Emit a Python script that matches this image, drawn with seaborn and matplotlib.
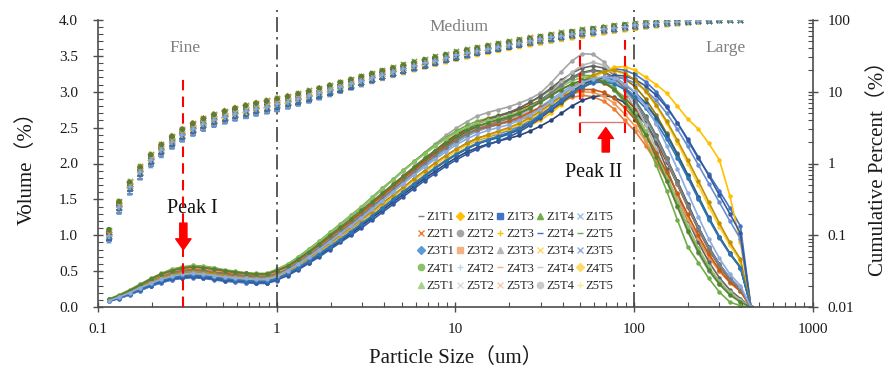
import numpy as np
import pandas as pd
import matplotlib
matplotlib.use('Agg')
import matplotlib.pyplot as plt
import seaborn as sns
from matplotlib.lines import Line2D
from matplotlib.ticker import (FixedLocator, MultipleLocator, LogLocator,
                               NullFormatter, FuncFormatter, FormatStrFormatter)

# ---------------- data ----------------
sizes = [0.115, 0.131, 0.150, 0.172, 0.197, 0.226, 0.259, 0.296, 0.339, 0.389,
         0.445, 0.510, 0.584, 0.669, 0.766, 0.877, 1.005, 1.151, 1.318, 1.510,
         1.729, 1.981, 2.269, 2.599, 2.976, 3.409, 3.905, 4.472, 5.122, 5.867,
         6.720, 7.697, 8.816, 10.097, 11.565, 13.246, 15.172, 17.377, 19.904,
         22.797, 26.111, 29.907, 34.255, 39.234, 44.938, 51.471, 58.953, 67.523,
         77.340, 88.583, 101.460, 116.210, 133.103, 152.453, 174.616, 200.000,
         229.075, 262.376, 300.518, 344.206, 394.244, 451.556]

sample_names = ['Z1T1', 'Z1T2', 'Z1T3', 'Z1T4', 'Z1T5',
                'Z2T1', 'Z2T2', 'Z2T3', 'Z2T4', 'Z2T5',
                'Z3T1', 'Z3T2', 'Z3T3', 'Z3T4', 'Z3T5',
                'Z4T1', 'Z4T2', 'Z4T3', 'Z4T4', 'Z4T5',
                'Z5T1', 'Z5T2', 'Z5T3', 'Z5T4', 'Z5T5']

z1t1 = [.08,.12,.17,.23,.29,.34,.38,.40,.41,.40,.38,.36,.35,.34,.33,.33,.37,
        .49,.58,.67,.78,.88,.99,1.09,1.21,1.32,1.43,1.55,1.66,1.78,1.89,2.00,2.10,2.19,2.28,2.35,2.39,2.43,2.47,2.51,2.57,
        2.65,2.75,2.87,2.99,3.10,3.20,3.28,3.32,3.30,
        3.24,3.14,3.00,2.80,2.57,2.32,2.07,1.85,1.62,1.38,1.13,0]
z1t2 = [.10,.16,.23,.31,.38,.45,.50,.54,.55,.54,.52,.50,.48,.46,.45,.45,.50,
        .55,.63,.73,.83,.93,1.04,1.15,1.26,1.38,1.50,1.62,1.74,1.86,1.98,2.09,2.20,2.30,2.39,2.46,2.51,2.55,2.58,2.61,2.65,
        2.70,2.78,2.86,2.92,2.95,2.93,2.87,2.76,2.60,
        2.45,2.25,2.02,1.76,1.49,1.21,0.94,0.70,0.50,0.34,0.22,0]
z1t3 = [.10,.15,.21,.28,.35,.41,.46,.49,.50,.49,.47,.45,.43,.42,.41,.41,.46,
        .56,.67,.79,.90,1.02,1.14,1.26,1.38,1.51,1.64,1.77,1.90,2.02,2.15,2.27,2.39,2.49,2.58,2.66,2.71,2.75,2.79,2.84,2.90,
        2.98,3.12,3.28,3.43,3.53,3.52,3.42,3.25,3.02,
        2.75,2.45,2.10,1.75,1.40,1.05,0.75,0.50,0.32,0.18,0.09,0]
z1t4 = [.09,.14,.20,.26,.32,.38,.42,.45,.46,.45,.43,.41,.39,.38,.37,.37,.42,
        .48,.56,.65,.75,.85,.95,1.06,1.17,1.28,1.40,1.51,1.62,1.73,1.84,1.95,2.05,2.14,2.22,2.29,2.34,2.38,2.42,2.47,2.53,
        2.60,2.70,2.82,2.95,3.07,3.18,3.28,3.34,3.35,
        3.30,3.20,3.10,2.98,2.80,2.62,2.48,2.28,2.05,1.55,0.90,0]
z1t5 = [.09,.14,.20,.27,.33,.39,.43,.46,.47,.46,.44,.42,.40,.39,.38,.38,.42,
        .50,.59,.69,.80,.91,1.02,1.13,1.25,1.37,1.49,1.61,1.73,1.85,1.97,2.08,2.19,2.29,2.38,2.45,2.50,2.54,2.58,2.62,2.68,
        2.76,2.86,2.96,3.05,3.12,3.16,3.17,3.13,3.05,
        2.95,2.82,2.63,2.40,2.12,1.82,1.52,1.22,0.96,0.74,0.55,0]
z2t1 = [.11,.17,.24,.32,.40,.47,.53,.56,.58,.57,.55,.52,.50,.48,.47,.47,.53,
        .60,.70,.81,.92,1.04,1.16,1.28,1.40,1.53,1.66,1.78,1.91,2.03,2.15,2.26,2.36,2.45,2.53,2.59,2.63,2.67,2.71,2.77,2.85,
        2.93,3.03,3.12,3.19,3.23,3.22,3.15,3.02,2.85,
        2.62,2.32,1.98,1.62,1.22,0.84,0.62,0.40,0.21,0.07,0.02,0]
z2t2 = [.08,.13,.18,.24,.30,.35,.39,.42,.43,.42,.40,.38,.36,.35,.34,.34,.38,
        .45,.53,.62,.72,.82,.92,1.02,1.13,1.24,1.35,1.46,1.57,1.68,1.79,1.89,1.99,2.08,2.16,2.22,2.27,2.31,2.35,2.39,2.45,
        2.52,2.60,2.70,2.80,2.88,2.93,2.95,2.92,2.85,
        2.72,2.55,2.33,2.06,1.76,1.44,1.12,0.84,0.60,0.41,0.26,0]
z2t3 = [.10,.16,.22,.30,.37,.44,.49,.52,.53,.52,.50,.48,.46,.45,.44,.44,.49,
        .55,.64,.75,.86,.97,1.09,1.20,1.32,1.45,1.57,1.70,1.82,1.95,2.07,2.18,2.30,2.40,2.49,2.56,2.62,2.66,2.70,2.75,2.81,
        2.88,2.96,3.04,3.10,3.14,3.15,3.12,3.04,2.92,
        2.76,2.56,2.31,2.02,1.71,1.39,1.08,0.80,0.57,0.38,0.24,0]
z2t4 = [.10,.15,.22,.29,.36,.42,.47,.50,.51,.50,.48,.46,.44,.43,.42,.42,.47,
        .54,.63,.74,.85,.96,1.08,1.19,1.31,1.43,1.56,1.68,1.81,1.93,2.05,2.17,2.28,2.38,2.47,2.55,2.61,2.66,2.71,2.77,2.85,
        2.94,3.05,3.16,3.26,3.33,3.36,3.33,3.24,3.08,
        2.86,2.60,2.28,1.93,1.57,1.22,0.90,0.63,0.41,0.24,0.12,0]
z2t5 = [.10,.15,.21,.28,.34,.40,.45,.48,.49,.48,.46,.44,.42,.41,.40,.40,.44,
        .49,.58,.67,.78,.88,.99,1.09,1.21,1.32,1.43,1.55,1.66,1.78,1.89,2.00,2.10,2.19,2.28,2.35,2.39,2.43,2.47,2.51,2.57,
        2.65,2.74,2.84,2.95,3.05,3.14,3.20,3.22,3.18,
        3.07,2.90,2.68,2.42,2.14,1.84,1.54,1.24,0.98,0.75,0.56,0]
z3t1 = [.09,.14,.19,.26,.32,.37,.42,.44,.45,.44,.42,.40,.38,.37,.36,.36,.40,
        .46,.54,.63,.73,.83,.94,1.04,1.15,1.26,1.38,1.49,1.60,1.71,1.82,1.93,2.03,2.12,2.20,2.27,2.32,2.36,2.41,2.47,2.56,
        2.66,2.78,2.90,3.01,3.10,3.16,3.19,3.17,3.10,
        2.99,2.84,2.64,2.40,2.13,1.84,1.54,1.25,0.98,0.75,0.55,0]
z3t2 = [.10,.16,.23,.31,.38,.45,.51,.54,.55,.54,.52,.49,.47,.46,.45,.45,.50,
        .56,.65,.75,.86,.97,1.08,1.19,1.31,1.43,1.55,1.67,1.79,1.91,2.03,2.14,2.25,2.35,2.44,2.51,2.56,2.60,2.64,2.70,2.78,
        2.88,2.99,3.10,3.20,3.27,3.30,3.28,3.20,3.06,
        2.88,2.66,2.39,2.08,1.75,1.42,1.10,0.82,0.58,0.39,0.25,0]
z3t3 = [.08,.12,.17,.23,.29,.34,.38,.41,.42,.41,.39,.37,.35,.34,.34,.34,.38,
        .47,.56,.66,.76,.87,.98,1.09,1.20,1.32,1.43,1.55,1.66,1.77,1.88,1.99,2.09,2.18,2.26,2.32,2.37,2.41,2.46,2.52,2.60,
        2.68,2.77,2.87,2.97,3.06,3.13,3.18,3.20,3.18,
        3.12,3.02,2.88,2.70,2.48,2.24,1.98,1.72,1.46,1.20,0.95,0]
z3t4 = [.10,.16,.23,.30,.38,.44,.50,.53,.54,.53,.51,.49,.47,.46,.45,.45,.49,
        .54,.63,.73,.84,.95,1.06,1.17,1.29,1.41,1.53,1.65,1.77,1.89,2.01,2.12,2.23,2.33,2.42,2.49,2.55,2.59,2.62,2.66,2.72,
        2.78,2.85,2.92,2.97,3.00,2.99,2.94,2.84,2.69,
        2.52,2.31,2.07,1.80,1.52,1.23,0.96,0.72,0.51,0.35,0.22,0]
z3t5 = [.10,.15,.21,.28,.35,.41,.46,.49,.50,.49,.47,.45,.43,.42,.41,.41,.45,
        .52,.61,.71,.82,.93,1.04,1.15,1.27,1.39,1.51,1.63,1.75,1.87,1.99,2.10,2.21,2.31,2.40,2.47,2.52,2.56,2.60,2.66,2.75,
        2.86,2.99,3.13,3.27,3.37,3.41,3.37,3.25,3.06,
        2.82,2.54,2.20,1.84,1.48,1.13,0.82,0.56,0.36,0.21,0.10,0]
z4t1 = [.09,.14,.20,.26,.33,.38,.43,.45,.46,.45,.43,.41,.40,.39,.38,.38,.42,
        .50,.58,.68,.78,.88,.99,1.10,1.21,1.32,1.43,1.55,1.66,1.77,1.88,1.99,2.09,2.18,2.26,2.33,2.38,2.43,2.48,2.54,2.62,
        2.71,2.81,2.92,3.03,3.13,3.21,3.27,3.29,3.25,
        3.15,3.00,2.80,2.56,2.29,2.00,1.70,1.40,1.12,0.86,0.64,0]
z4t2 = [.09,.14,.20,.27,.33,.39,.44,.47,.48,.47,.45,.43,.41,.40,.39,.39,.43,
        .51,.60,.70,.81,.92,1.03,1.14,1.26,1.38,1.50,1.62,1.74,1.86,1.98,2.09,2.20,2.30,2.39,2.46,2.51,2.55,2.59,2.64,2.71,
        2.79,2.89,2.99,3.08,3.15,3.19,3.19,3.14,3.03,
        2.86,2.63,2.36,2.05,1.73,1.41,1.10,0.82,0.59,0.41,0.27,0]
z4t3 = [.11,.17,.24,.32,.39,.46,.52,.55,.57,.56,.54,.51,.49,.47,.46,.46,.52,
        .59,.69,.80,.91,1.03,1.15,1.27,1.39,1.52,1.65,1.77,1.90,2.02,2.13,2.24,2.34,2.43,2.50,2.56,2.60,2.63,2.67,2.72,2.79,
        2.87,2.97,3.07,3.15,3.20,3.21,3.16,3.06,2.90,
        2.70,2.45,2.15,1.82,1.47,1.12,0.82,0.56,0.35,0.19,0.08,0]
z4t4 = [.08,.13,.18,.24,.30,.35,.39,.41,.42,.41,.39,.37,.36,.35,.34,.34,.38,
        .44,.52,.61,.70,.80,.90,1.00,1.10,1.21,1.32,1.43,1.54,1.65,1.76,1.86,1.96,2.05,2.13,2.20,2.26,2.31,2.37,2.44,2.53,
        2.63,2.74,2.85,2.96,3.06,3.14,3.20,3.23,3.22,
        3.17,3.08,2.95,2.78,2.57,2.34,2.09,1.83,1.56,1.30,1.03,0]
z4t5 = [.10,.16,.23,.31,.39,.46,.51,.55,.56,.55,.53,.50,.48,.47,.46,.46,.51,
        .57,.66,.76,.87,.98,1.09,1.20,1.32,1.44,1.56,1.68,1.80,1.91,2.03,2.14,2.24,2.33,2.41,2.47,2.51,2.55,2.59,2.64,2.71,
        2.78,2.86,2.93,2.99,3.03,3.03,2.99,2.91,2.78,
        2.61,2.40,2.15,1.88,1.59,1.29,1.00,0.74,0.52,0.35,0.22,0]
z5t1 = [.10,.15,.21,.29,.36,.42,.47,.50,.51,.50,.48,.46,.44,.43,.42,.42,.46,
        .53,.62,.72,.83,.94,1.05,1.16,1.28,1.40,1.52,1.64,1.76,1.88,2.00,2.11,2.22,2.32,2.41,2.48,2.53,2.58,2.63,2.69,2.77,
        2.87,2.98,3.09,3.19,3.26,3.29,3.27,3.19,3.05,
        2.87,2.65,2.38,2.07,1.74,1.41,1.09,0.81,0.58,0.39,0.25,0]
z5t2 = [.10,.15,.21,.28,.35,.41,.45,.48,.49,.48,.46,.44,.42,.41,.40,.40,.45,
        .50,.59,.68,.79,.89,1.00,1.11,1.22,1.33,1.45,1.56,1.67,1.79,1.90,2.01,2.11,2.20,2.28,2.35,2.40,2.45,2.50,2.56,2.64,
        2.73,2.83,2.94,3.05,3.15,3.23,3.28,3.30,3.26,
        3.16,3.01,2.82,2.59,2.33,2.05,1.76,1.46,1.17,0.90,0.67,0]
z5t3 = [.09,.13,.19,.25,.31,.37,.41,.44,.45,.44,.42,.40,.38,.37,.36,.36,.40,
        .47,.55,.64,.74,.84,.94,1.05,1.16,1.27,1.38,1.50,1.61,1.72,1.83,1.94,2.04,2.13,2.21,2.28,2.33,2.38,2.43,2.49,2.57,
        2.67,2.78,2.89,2.99,3.07,3.12,3.14,3.11,3.03,
        2.92,2.77,2.57,2.34,2.08,1.80,1.51,1.23,0.97,0.74,0.55,0]
z5t4 = [.11,.16,.23,.31,.39,.46,.51,.54,.56,.55,.53,.51,.49,.47,.46,.46,.51,
        .57,.67,.77,.88,1.00,1.11,1.23,1.35,1.47,1.59,1.71,1.83,1.95,2.07,2.18,2.28,2.38,2.46,2.52,2.57,2.61,2.65,2.70,2.77,
        2.85,2.94,3.03,3.11,3.16,3.18,3.14,3.04,2.88,
        2.66,2.40,2.09,1.76,1.41,1.06,0.77,0.52,0.32,0.17,0.07,0]
z5t5 = [.09,.14,.20,.27,.33,.39,.43,.46,.47,.46,.44,.42,.41,.40,.39,.39,.43,
        .51,.60,.70,.80,.91,1.02,1.13,1.24,1.36,1.48,1.60,1.72,1.84,1.95,2.06,2.16,2.26,2.34,2.41,2.46,2.50,2.54,2.60,2.68,
        2.76,2.86,2.96,3.05,3.13,3.18,3.21,3.19,3.12,
        2.99,2.80,2.55,2.25,1.93,1.59,1.26,0.95,0.68,0.46,0.30,0]

volumes = [z1t1, z1t2, z1t3, z1t4, z1t5, z2t1, z2t2, z2t3, z2t4, z2t5,
           z3t1, z3t2, z3t3, z3t4, z3t5, z4t1, z4t2, z4t3, z4t4, z4t5,
           z5t1, z5t2, z5t3, z5t4, z5t5]

# Size class boundaries and peak annotations
class_bounds = [1, 100]
peak1_size = 0.3
peak2_range = [49.7, 88.7]

# ---------------- styles ----------------
line_colors = ['#4472C4', '#ED7D31', '#A5A5A5', '#FFC000', '#5B9BD5',
               '#70AD47', '#264478', '#9E480E', '#636363', '#997300',
               '#255E91', '#43682B', '#698ED0', '#F1975A', '#B7B7B7',
               '#FFCD33', '#7CAFDD', '#8CC168', '#335AA1', '#C55A11',
               '#7B7B7B', '#BF9000', '#2E75B6', '#548235', '#8FAADC']
cum_colors = ['#7F7F7F', '#FFC000', '#4472C4', '#70AD47', '#9DC3E6',
              '#ED7D31', '#A5A5A5', '#FFC000', '#4472C4', '#70AD47',
              '#5B9BD5', '#F4B183', '#B7B7B7', '#FFD966', '#8FAADC',
              '#8CC168', '#BDD7EE', '#F4B183', '#C9C9C9', '#FFD966',
              '#A9D18E', '#DBDBDB', '#F8CBAD', '#C9C9C9', '#FFE699']
cum_markers = ['_', 'D', 's', '^', 'x', 'x', 'o', '+', '_', '_',
               'D', 's', '^', 'x', 'x', 'o', '+', '_', '_', 'D',
               '^', 'x', 'x', 'o', '+']

sns.set_style('ticks')
plt.rcParams['font.family'] = ['Liberation Serif', 'Noto Sans CJK SC']
plt.rcParams['axes.unicode_minus'] = False

fig = plt.figure(figsize=(8.92, 3.75), dpi=100)
ax = fig.add_axes([0.110, 0.181, 0.801, 0.766])

rows = []
for name, vals in zip(sample_names, volumes):
    for s, v in zip(sizes, vals):
        rows.append((name, s, v))
df = pd.DataFrame(rows, columns=['sample', 'size', 'volume'])

ax.set_xscale('log')
sns.lineplot(data=df, x='size', y='volume', hue='sample',
             palette=dict(zip(sample_names, line_colors)),
             marker='o', markersize=3.2, markeredgewidth=0, linewidth=1.2,
             legend=False, errorbar=None, ax=ax)

ax.set_xlim(0.1, 1000)
ax.set_ylim(0, 4)

# Cumulative percent on the right log axis
ax2 = ax.twinx()
ax2.set_yscale('log')
ax2.set_ylim(0.01, 100)
for name, vals, c, m in zip(sample_names, volumes, line_colors, cum_markers):
    v = np.array(vals, dtype=float)
    cum = np.cumsum(v) / v.sum() * 100
    filled = m in ('D', 's', '^', 'o')
    kw = dict(edgecolor='none') if filled else dict(linewidth=1.1)
    sz = 14 if m != 'D' else 11
    sns.scatterplot(x=sizes[:-1], y=cum[:-1], marker=m, color=c, s=sz,
                    ax=ax2, legend=False, zorder=3, **kw)
ax2.set_ylim(0.01, 100)
ax2.set_xlim(0.1, 1000)

# ---------------- annotations ----------------
for b in class_bounds:
    ax.plot([b, b], [0, 4.14], color='#404040', lw=1.2,
            ls=(0, (9, 3, 1.5, 3)), clip_on=False, zorder=4)

ax.plot([peak1_size, peak1_size], [0, 3.19], color='red', lw=1.5,
        ls=(0, (5, 3)), zorder=4)
for px in peak2_range:
    ax.plot([px, px], [2.42, 3.72], color='red', lw=1.5, ls=(0, (5, 3)), zorder=4)
ax.plot(peak2_range, [2.58, 2.58], color='#E07878', lw=1.0, zorder=4)

arrow_style = 'simple,head_length=0.6,head_width=0.85,tail_width=0.4'
ax.annotate('', xy=(peak1_size, 0.80), xytext=(peak1_size, 1.17),
            arrowprops=dict(arrowstyle=arrow_style, color='red',
                            mutation_scale=13, shrinkA=0, shrinkB=0), zorder=5)
ax.annotate('', xy=(69.5, 2.50), xytext=(69.5, 2.16),
            arrowprops=dict(arrowstyle=arrow_style, color='red',
                            mutation_scale=13, shrinkA=0, shrinkB=0), zorder=5)

ax.text(0.336, 1.38, 'Peak I', ha='center', va='center', fontsize=14.5, color='#111111')
ax.text(59.6, 1.88, 'Peak II', ha='center', va='center', fontsize=14.5, color='#111111')
ax.text(0.307, 3.61, 'Fine', ha='center', va='center', fontsize=12.5, color='#7F7F7F')
ax.text(10.46, 3.90, 'Medium', ha='center', va='center', fontsize=12.5, color='#7F7F7F')
ax.text(326, 3.61, 'Large', ha='center', va='center', fontsize=12.5, color='#7F7F7F')

# ---------------- axes styling ----------------
spine_c = '#4d4d4d'
for a in (ax, ax2):
    a.spines['top'].set_visible(False)
    for sp in a.spines.values():
        sp.set_color(spine_c)
        sp.set_linewidth(1.2)
ax.spines['right'].set_visible(False)
ax2.spines['left'].set_visible(False)
ax2.spines['bottom'].set_visible(False)

ax.yaxis.set_major_locator(MultipleLocator(0.5))
ax.yaxis.set_minor_locator(MultipleLocator(0.1))
ax.yaxis.set_major_formatter(FormatStrFormatter('%.1f'))
ax.xaxis.set_major_locator(FixedLocator([0.1, 1, 10, 100, 1000]))
ax.xaxis.set_major_formatter(FuncFormatter(lambda v, p: '0.1' if v < 1 else '%d' % v))
ax.xaxis.set_minor_locator(LogLocator(base=10, subs=range(2, 10), numticks=20))
ax.xaxis.set_minor_formatter(NullFormatter())

ax2.yaxis.set_major_locator(FixedLocator([0.01, 0.1, 1, 10, 100]))
ax2.yaxis.set_major_formatter(FuncFormatter(lambda v, p: '%g' % v))
ax2.yaxis.set_minor_locator(LogLocator(base=10, subs=range(2, 10), numticks=20))
ax2.yaxis.set_minor_formatter(NullFormatter())

for a in (ax, ax2):
    a.tick_params(which='major', direction='inout', length=7, width=1.0,
                  color=spine_c, labelsize=11, labelcolor='#1a1a1a')
    a.tick_params(which='minor', direction='in', length=3.5, width=0.8, color=spine_c)
ax.tick_params(axis='y', which='major', pad=11)
ax.tick_params(axis='x', which='major', pad=8)
ax2.tick_params(axis='y', which='major', pad=7)

ax.set_xlabel('Particle Size（um）', fontsize=15, labelpad=9, color='#1a1a1a')
ax.set_ylabel('Volume（%）', fontsize=15, labelpad=16, color='#1a1a1a')
ax2.set_ylabel('Cumulative Percent（%）', fontsize=15, labelpad=10, color='#1a1a1a')

# ---------------- legend ----------------
order = [(z * 5 + t) for t in range(5) for z in range(5)]
handles = [Line2D([], [], ls='none', marker=cum_markers[i], color=cum_colors[i],
                  markersize=4.5 if cum_markers[i] not in ('D',) else 3.8,
                  markeredgewidth=1.0) for i in order]
labels = [sample_names[i] for i in order]
leg = ax2.legend(handles, labels, ncol=5, loc='upper left',
                 bbox_to_anchor=(0.447, 0.335), frameon=False, fontsize=9.0,
                 handlelength=0.5, handletextpad=0.25, columnspacing=0.2,
                 labelspacing=0.42, borderaxespad=0, borderpad=0)
for t in leg.get_texts():
    t.set_color('#262626')

fig.savefig('out.png', dpi=100)
